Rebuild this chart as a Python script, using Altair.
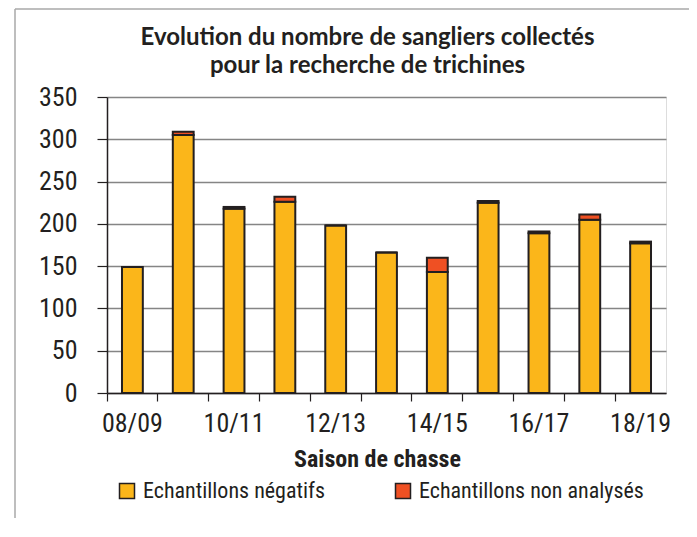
import altair as alt
import pandas as pd

# ---- data ----
seasons = ["08/09", "09/10", "10/11", "11/12", "12/13", "13/14",
           "14/15", "15/16", "16/17", "17/18", "18/19"]
negatifs = [149, 305, 218, 226, 198, 166, 143, 225, 189, 205, 177]
non_analyses = [0, 4, 2, 6, 0, 0, 17, 2, 2, 6, 2]
series = ["Echantillons négatifs", "Echantillons non analysés"]
colors = ["#FBB61A", "#EF5023"]
shown_labels = seasons[::2]
y_ticks = [0, 50, 100, 150, 200, 250, 300, 350]

rows = []
for s, n, a in zip(seasons, negatifs, non_analyses):
    rows.append({"saison": s, "serie": series[0], "valeur": n, "ord": 0})
    rows.append({"saison": s, "serie": series[1], "valeur": a, "ord": 1})
df = pd.DataFrame(rows)

NARROW = "Liberation Sans Narrow, Arial Narrow, Roboto Condensed, DejaVu Sans Condensed, sans-serif"
DARK = "#231F20"

label_list = ",".join("'" + l + "'" for l in shown_labels)
label_expr = f"indexof([{label_list}], datum.value) >= 0 ? datum.value : ''"

W, H = 559, 296

bars = alt.Chart(df).mark_bar(
    width=alt.RelativeBandSize(0.41), stroke=DARK, strokeWidth=2
).encode(
    x=alt.X("saison:N", sort=seasons,
            scale=alt.Scale(paddingInner=0, paddingOuter=0),
            axis=alt.Axis(title="Saison de chasse", bandPosition=0,
                          labelOffset=0, labelExpr=label_expr,
                          labelAngle=0, labelOverlap=False, labelPadding=9,
                          labelFont=NARROW, labelFontSize=26, labelColor=DARK,
                          tickSize=8, tickColor=DARK, tickWidth=1.2,
                          domainColor=DARK, domainWidth=1.5,
                          titleFont=NARROW, titleFontSize=24, titleFontWeight="bold",
                          titleColor=DARK, titlePadding=11, titleX=270)),
    y=alt.Y("valeur:Q", stack="zero",
            scale=alt.Scale(domain=[0, 350], nice=False),
            axis=alt.Axis(title=None, values=y_ticks, grid=True,
                          gridColor="#858585", gridWidth=1.6,
                          labelFont=NARROW, labelFontSize=26, labelColor=DARK,
                          labelPadding=20, tickSize=10, tickColor=DARK, tickWidth=1.2,
                          domainColor=DARK, domainWidth=1.5)),
    fill=alt.Fill("serie:N", scale=alt.Scale(domain=series, range=colors),
                  legend=alt.Legend(title=None, orient="none", direction="horizontal",
                                    legendX=9, legendY=383, symbolType="square",
                                    symbolSize=225, symbolStrokeColor=DARK,
                                    symbolStrokeWidth=1.5, symbolOpacity=1,
                                    labelFont=NARROW, labelFontSize=22, labelColor=DARK,
                                    labelOffset=5, columnPadding=66, labelLimit=400)),
    order=alt.Order("ord:Q", sort="ascending"),
)

frame_df = pd.DataFrame({"k": [0]})
frame_v = alt.Chart(frame_df).mark_rule(color="#A8A8A8", strokeWidth=1.5).encode(
    x=alt.value(-92), y=alt.value(-88), y2=alt.value(H + 150))
frame_h = alt.Chart(frame_df).mark_rule(color="#A8A8A8", strokeWidth=1.5).encode(
    x=alt.value(-92), x2=alt.value(W + 40), y=alt.value(-88))

chart = alt.layer(frame_v, frame_h, bars).properties(
    width=W, height=H,
    title=alt.TitleParams(
        text=["Evolution du nombre de sangliers collectés",
              "pour la recherche de trichines"],
        font="Lato", fontSize=24, fontWeight="bold", color=DARK,
        anchor="middle", dx=-19, lineHeight=28, offset=-70),
    autosize=alt.AutoSizeParams(type="none"),
    padding={"left": 99, "top": 89, "right": 23, "bottom": 125},
).configure_view(stroke="#9A9A9A", strokeWidth=2.5).configure(background="white")

chart.save("out.html", embed_options={"renderer": "svg", "actions": False})
